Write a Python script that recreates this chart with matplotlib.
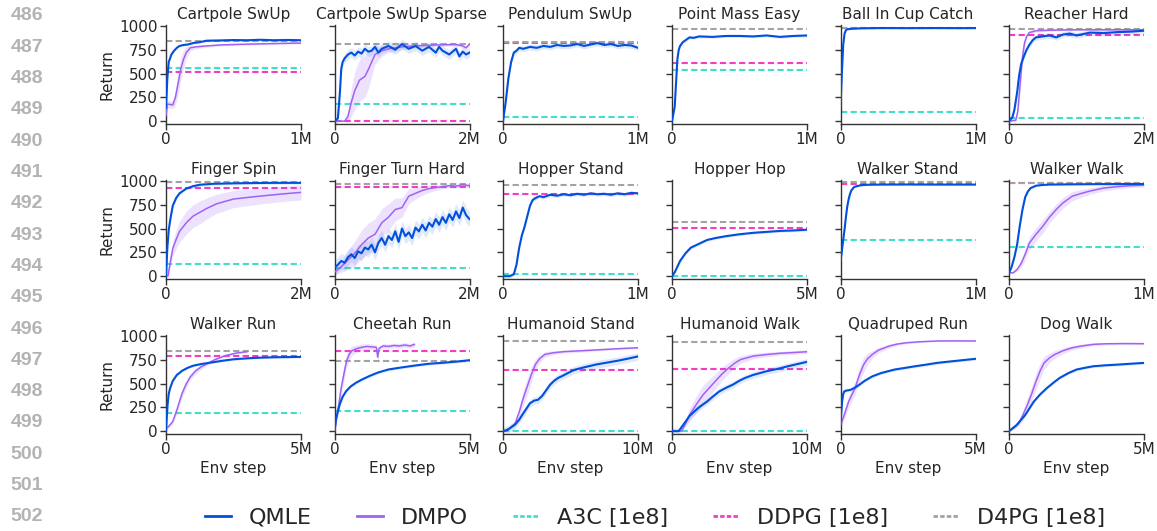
import matplotlib
matplotlib.use("Agg")
import matplotlib.pyplot as plt
from matplotlib.lines import Line2D
import numpy as np

# ---- data (x in millions of env steps) ----
titles = ["Cartpole SwUp", "Cartpole SwUp Sparse", "Pendulum SwUp", "Point Mass Easy",
          "Ball In Cup Catch", "Reacher Hard",
          "Finger Spin", "Finger Turn Hard", "Hopper Stand", "Hopper Hop",
          "Walker Stand", "Walker Walk",
          "Walker Run", "Cheetah Run", "Humanoid Stand", "Humanoid Walk",
          "Quadruped Run", "Dog Walk"]
xmax = [1, 2, 1, 1, 1, 2,
        2, 2, 1, 5, 1, 1,
        5, 5, 10, 10, 5, 5]

a3c = [555, 176, 45, 540, 100, 35,
       128, 90, 25, 3, 378, 311,
       192, 214, 3, 3, None, None]
ddpg = [520, 5, 818, 614, 979, 902,
        925, 940, 862, 502, 972, 975,
        794, 847, 643, 657, None, None]
d4pg = [845, 810, 835, 965, 980, 965,
        985, 970, 961, 565, 990, 982,
        847, 740, 947, 936, None, None]

qmle_x = [
    [0, .01, .02, .04, .06, .08, .1, .13, .16, .2, .25, .3, .4, .5, .6, .7, .8, .9, 1.0],
    [0, .05, .08, .1, .12, .15, .2, .25, .3, .35, .4, .45, .5, .55, .6, .65, .7, .8, .9, 1.0,
     1.1, 1.2, 1.3, 1.4, 1.5, 1.55, 1.6, 1.7, 1.8, 1.85, 1.9, 1.95, 2.0],
    [0, .02, .04, .06, .08, .1, .12, .15, .2, .25, .3, .35, .4, .45, .5, .55, .6, .65, .7, .75,
     .8, .85, .9, .95, 1.0],
    [0, .02, .03, .04, .05, .06, .08, .1, .13, .16, .2, .3, .4, .5, .6, .7, .8, .9, 1.0],
    [0, .01, .02, .03, .04, .05, .08, .15, .3, .5, .7, .9, 1.0],
    [0, .05, .08, .12, .15, .18, .22, .26, .3, .35, .4, .5, .6, .7, .8, .9, 1.0, 1.2, 1.4,
     1.6, 1.8, 2.0],
    [0, .02, .04, .06, .1, .15, .2, .3, .4, .5, .7, 1.0, 1.3, 1.6, 2.0],
    [0, .05, .1, .15, .2, .25, .3, .35, .4, .45, .5, .55, .6, .65, .7, .75, .8, .85, .9, .95,
     1.0, 1.05, 1.1, 1.15, 1.2, 1.25, 1.3, 1.35, 1.4, 1.45, 1.5, 1.55, 1.6, 1.65, 1.7, 1.75,
     1.8, 1.85, 1.9, 1.95, 2.0],
    [0, .05, .08, .1, .12, .14, .16, .18, .2, .22, .24, .27, .3, .35, .4, .45, .5, .55, .6,
     .65, .7, .75, .8, .85, .9, .95, 1.0],
    [0, .1, .2, .3, .5, .7, 1.0, 1.3, 1.6, 2.0, 2.5, 3.0, 3.5, 4.0, 4.5, 5.0],
    [0, .01, .02, .03, .04, .05, .06, .07, .08, .1, .12, .15, .2, .3, .5, .7, 1.0],
    [0, .02, .04, .06, .08, .1, .12, .14, .16, .2, .25, .3, .5, .7, 1.0],
    [0, .03, .06, .1, .15, .25, .4, .6, .8, 1.0, 1.3, 1.7, 2.1, 2.5, 3.0, 3.5, 4.0, 4.5, 5.0],
    [0, .06, .19, .3, .43, .6, .8, 1.0, 1.3, 1.6, 2.0, 2.5, 3.0, 3.5, 4.0, 4.5, 5.0],
    [0, .3, .6, .9, 1.2, 1.5, 1.8, 2.0, 2.3, 2.6, 2.9, 3.2, 3.5, 3.8, 4.1, 4.4, 4.8, 5.3,
     6.0, 6.9, 7.7, 8.5, 9.2, 10.0],
    [0, .5, .7, 1.0, 1.3, 1.64, 2.0, 2.6, 3.0, 3.5, 4.0, 4.5, 5.0, 5.4, 6.0, 7.0, 8.0, 8.6,
     9.3, 10.0],
    [0, .03, .06, .1, .14, .2, .38, .55, .7, .9, 1.18, 1.5, 2.0, 2.4, 2.77, 3.2, 3.57, 4.0,
     4.5, 5.0],
    [0, .28, .6, .92, 1.15, 1.4, 1.65, 1.87, 2.2, 2.5, 2.8, 3.13, 3.6, 4.08, 4.5, 5.0],
]
qmle_y = [
    [140, 450, 620, 700, 740, 770, 790, 800, 805, 820, 830, 845, 848, 852, 850, 855, 850, 853, 850],
    [0, 30, 300, 550, 620, 660, 700, 720, 690, 730, 710, 760, 730, 740, 780, 720, 760, 790, 750,
     810, 760, 790, 740, 780, 720, 780, 740, 700, 760, 680, 730, 700, 720],
    [0, 200, 450, 620, 720, 740, 770, 760, 780, 770, 790, 780, 800, 790, 795, 810, 790, 805,
     820, 800, 810, 790, 800, 795, 770],
    [0, 150, 400, 650, 750, 790, 830, 850, 880, 875, 890, 885, 895, 895, 890, 900, 885, 895, 900],
    [150, 500, 800, 920, 955, 965, 970, 975, 978, 977, 978, 977, 978],
    [0, 40, 120, 300, 480, 600, 680, 750, 800, 850, 880, 890, 900, 880, 910, 920, 900, 930,
     925, 935, 940, 950],
    [0, 300, 480, 580, 740, 820, 870, 920, 945, 960, 970, 975, 978, 980, 980],
    [90, 120, 160, 140, 200, 230, 190, 260, 240, 300, 280, 330, 250, 350, 400, 330, 420, 380,
     470, 360, 500, 420, 460, 400, 510, 470, 540, 480, 560, 520, 600, 540, 620, 560, 650, 590,
     680, 610, 720, 640, 600],
    [0, 0, 20, 120, 300, 430, 520, 630, 740, 800, 820, 840, 830, 855, 845, 860, 850, 865, 855,
     870, 860, 865, 855, 870, 860, 875, 870],
    [0, 40, 100, 160, 240, 300, 340, 380, 400, 420, 440, 455, 465, 475, 480, 488],
    [160, 260, 380, 490, 620, 730, 806, 860, 900, 935, 945, 955, 960, 962, 963, 962, 962],
    [30, 100, 200, 330, 530, 700, 830, 890, 925, 950, 958, 962, 965, 967, 968],
    [0, 150, 280, 390, 450, 527, 590, 635, 665, 687, 705, 722, 740, 755, 765, 772, 776, 778, 780],
    [0, 135, 278, 360, 420, 470, 509, 540, 580, 615, 648, 670, 690, 708, 718, 730, 745],
    [0, 10, 40, 70, 120, 187, 250, 293, 320, 330, 370, 430, 490, 530, 560, 580, 610, 645, 670,
     700, 720, 740, 760, 785],
    [0, 0, 40, 99, 160, 205, 250, 311, 360, 417, 455, 488, 530, 558, 590, 629, 660, 682, 705, 728],
    [80, 200, 311, 390, 417, 425, 435, 460, 488, 530, 576, 610, 647, 665, 682, 700, 717, 730,
     745, 760],
    [0, 64, 170, 311, 385, 452, 510, 558, 610, 647, 665, 682, 692, 700, 708, 717],
]
qmle_spread = [10, 50, 30, 15, 8, 30, 15, 80, 20, 15, 8, 8, 10, 15, 40, 35, 15, 15]

dmpo_x = [
    [0, .01, .03, .05, .07, .09, .11, .13, .15, .18, .22, .3, .4, .5, .7, .9, 1.0],
    [0, .15, .2, .25, .3, .37, .45, .5, .55, .6, .7, .8, 1.0, 1.2, 1.5, 1.8, 1.9, 1.95, 2.0],
    None, None, None,
    [0, .1, .13, .16, .2, .23, .26, .3, .4, .6, 1.0, 1.5, 2.0],
    [0, .03, .07, .1, .15, .2, .3, .4, .5, .6, .75, 1.0, 1.25, 1.5, 1.75, 2.0],
    [0, .1, .2, .3, .4, .5, .6, .7, .8, .9, 1.0, 1.1, 1.2, 1.3, 1.4, 1.5, 1.6, 1.7, 1.8, 1.9, 2.0],
    None, None, None,
    [0, .03, .06, .09, .12, .15, .2, .25, .3, .35, .4, .47, .55, .6, .7, .8, .9, 1.0],
    [0, .1, .25, .4, .5, .6, .74, .9, 1.1, 1.3, 1.5, 1.8, 2.2, 2.6, 3.0],
    [0, .12, .25, .37, .45, .55, .65, .8, 1.0, 1.2, 1.4, 1.55, 1.6, 1.65, 1.8, 2.0, 2.2, 2.4,
     2.6, 2.8, 2.96],
    [0, .5, .9, 1.2, 1.5, 1.8, 2.1, 2.4, 2.7, 3.1, 3.7, 4.5, 5.3, 6.5, 7.5, 8.5, 10.0],
    [0, .7, 1.0, 1.3, 1.8, 2.3, 2.8, 3.2, 3.7, 4.2, 4.7, 5.1, 6.0, 7.0, 8.0, 9.0, 10.0],
    [0, .15, .3, .54, .7, .86, 1.0, 1.18, 1.4, 1.8, 2.1, 2.45, 3.0, 3.57, 4.2, 5.0],
    [0, .2, .36, .5, .68, .85, 1.0, 1.15, 1.3, 1.5, 1.7, 2.0, 2.34, 2.7, 3.13, 3.6, 4.2, 5.0],
]
dmpo_y = [
    [60, 180, 175, 170, 250, 400, 550, 650, 720, 770, 780, 790, 800, 805, 812, 818, 820],
    [0, 0, 50, 200, 320, 430, 470, 540, 620, 700, 740, 760, 780, 790, 800, 805, 790, 770, 810],
    None, None, None,
    [0, 10, 100, 350, 680, 820, 890, 930, 950, 955, 960, 960, 960],
    [0, 5, 170, 290, 385, 470, 560, 630, 670, 710, 760, 810, 830, 848, 865, 880],
    [40, 100, 170, 240, 330, 400, 440, 560, 620, 700, 720, 840, 870, 900, 920, 930, 940, 950,
     945, 960, 950],
    None, None, None,
    [35, 35, 70, 134, 230, 346, 440, 523, 620, 700, 770, 841, 875, 894, 925, 940, 950, 955],
    [28, 50, 100, 220, 313, 400, 491, 570, 633, 675, 705, 750, 794, 820, 835],
    [0, 206, 455, 633, 740, 811, 845, 865, 880, 890, 885, 880, 776, 870, 895, 890, 900, 895,
     905, 895, 911],
    [0, 30, 81, 200, 346, 470, 594, 700, 760, 806, 823, 835, 841, 850, 858, 866, 876],
    [0, 0, 80, 170, 280, 382, 460, 523, 600, 664, 720, 753, 788, 805, 818, 826, 834],
    [60, 180, 311, 452, 590, 700, 760, 806, 850, 894, 915, 929, 940, 947, 948, 947],
    [0, 40, 81, 160, 276, 400, 523, 630, 717, 770, 806, 845, 876, 895, 912, 918, 920, 919],
]
dmpo_spread = [
    [20, 40, 40, 40, 80, 120, 120, 100, 60, 30, 20, 15, 10, 10, 10, 10, 10],
    [0, 5, 60, 150, 200, 220, 220, 200, 150, 100, 60, 40, 30, 20, 15, 15, 20, 20, 15],
    None, None, None,
    [5, 10, 40, 80, 80, 50, 30, 20, 15, 10, 10, 10, 10],
    [5, 10, 50, 80, 100, 110, 120, 120, 120, 110, 100, 90, 85, 80, 80, 80],
    [30, 60, 100, 130, 150, 160, 160, 150, 140, 120, 100, 80, 60, 50, 40, 30, 25, 20, 20, 20, 20],
    None, None, None,
    [5, 10, 20, 40, 60, 70, 70, 70, 60, 60, 55, 50, 40, 35, 30, 25, 20, 20],
    [10, 15, 25, 40, 45, 45, 40, 35, 30, 25, 20, 15, 12, 10, 10],
    [10, 60, 80, 80, 70, 60, 50, 40, 35, 30, 30, 30, 40, 30, 25, 25, 25, 25, 25, 25, 25],
    [5, 15, 30, 60, 80, 90, 80, 60, 40, 30, 20, 15, 15, 12, 12, 10, 10],
    [5, 5, 40, 70, 90, 100, 90, 80, 70, 60, 50, 40, 30, 25, 20, 20, 20],
    [20, 50, 60, 70, 80, 80, 60, 40, 30, 20, 15, 10, 8, 6, 6, 6],
    [5, 15, 30, 50, 70, 80, 90, 80, 70, 50, 40, 30, 25, 20, 15, 12, 12, 12],
]

line_numbers = list(range(486, 503))

# ---- style ----
C_QMLE = "#0050dc"
C_DMPO = "#a062f5"
C_A3C = "#3ee0cc"
C_DDPG = "#f53cc4"
C_D4PG = "#a3a3a3"
TXT = "#262626"

plt.rcParams["font.family"] = "DejaVu Sans"
plt.rcParams["font.size"] = 11
plt.rcParams["text.color"] = TXT
plt.rcParams["axes.labelcolor"] = TXT
plt.rcParams["xtick.color"] = TXT
plt.rcParams["ytick.color"] = TXT

W, H = 1157, 531
fig = plt.figure(figsize=(W / 100, H / 100), dpi=100)

col_left = [166, 334.5, 503, 672, 840.5, 1009]
ax_w = 135
row_top = [25, 180, 335]
ax_h = 99
ylo, yhi = -30, 1010
dash = (3, 1.6)

for i, title in enumerate(titles):
    r, c = divmod(i, 6)
    ax = fig.add_axes([col_left[c] / W, 1 - (row_top[r] + ax_h) / H, ax_w / W, ax_h / H])
    for val, col in ((a3c[i], C_A3C), (ddpg[i], C_DDPG), (d4pg[i], C_D4PG)):
        if val is not None:
            ax.plot([0, xmax[i]], [val, val], color=col, lw=1.5, dashes=dash, zorder=1)
    if dmpo_x[i] is not None:
        dx = np.array(dmpo_x[i])
        dy = np.array(dmpo_y[i])
        ds = np.array(dmpo_spread[i])
        ax.fill_between(dx, dy - ds, dy + ds, color=C_DMPO, alpha=0.18, lw=0, zorder=2)
        ax.plot(dx, dy, color=C_DMPO, lw=1.1, zorder=3)
    qx = np.array(qmle_x[i])
    qy = np.array(qmle_y[i])
    ax.fill_between(qx, qy - qmle_spread[i], qy + qmle_spread[i], color=C_QMLE, alpha=0.12,
                    lw=0, zorder=2)
    ax.plot(qx, qy, color=C_QMLE, lw=1.5, zorder=4)

    ax.set_xlim(0, xmax[i])
    ax.set_ylim(ylo, yhi)
    ax.set_xticks([0, xmax[i]])
    ax.set_xticklabels(["0", f"{xmax[i]}M"])
    ax.set_yticks([0, 250, 500, 750, 1000])
    if c == 0:
        ax.set_ylabel("Return", labelpad=3)
    else:
        ax.set_yticklabels([])
    if r == 2:
        ax.set_xlabel("Env step", labelpad=3)
    ax.set_title(title, fontsize=11, pad=4)
    for s in ("top", "right"):
        ax.spines[s].set_visible(False)
    for s in ("left", "bottom"):
        ax.spines[s].set_color("#333333")
        ax.spines[s].set_linewidth(1.0)
    ax.tick_params(length=4, width=1.0, color="#333333", pad=2)

for k, n in enumerate(line_numbers):
    fig.text(43 / W, 1 - (16 + 31.3 * k) / H, str(n), ha="right", va="center",
             fontsize=14, fontweight="bold", color="#b3b3b3", family="Liberation Sans")

handles = [
    Line2D([], [], color=C_QMLE, lw=2),
    Line2D([], [], color=C_DMPO, lw=2),
    Line2D([], [], color=C_A3C, lw=2, dashes=(1.6, 0.8)),
    Line2D([], [], color=C_DDPG, lw=2, dashes=(1.6, 0.8)),
    Line2D([], [], color=C_D4PG, lw=2, dashes=(1.6, 0.8)),
]
labels = ["QMLE", "DMPO", "A3C [1e8]", "DDPG [1e8]", "D4PG [1e8]"]
fig.legend(handles, labels, loc="center", bbox_to_anchor=(655 / W, 1 - 518 / H), ncol=5,
           frameon=False, fontsize=16, handlelength=1.2, handletextpad=0.8,
           columnspacing=2.0, borderpad=0)

fig.savefig("out.png", dpi=100)
